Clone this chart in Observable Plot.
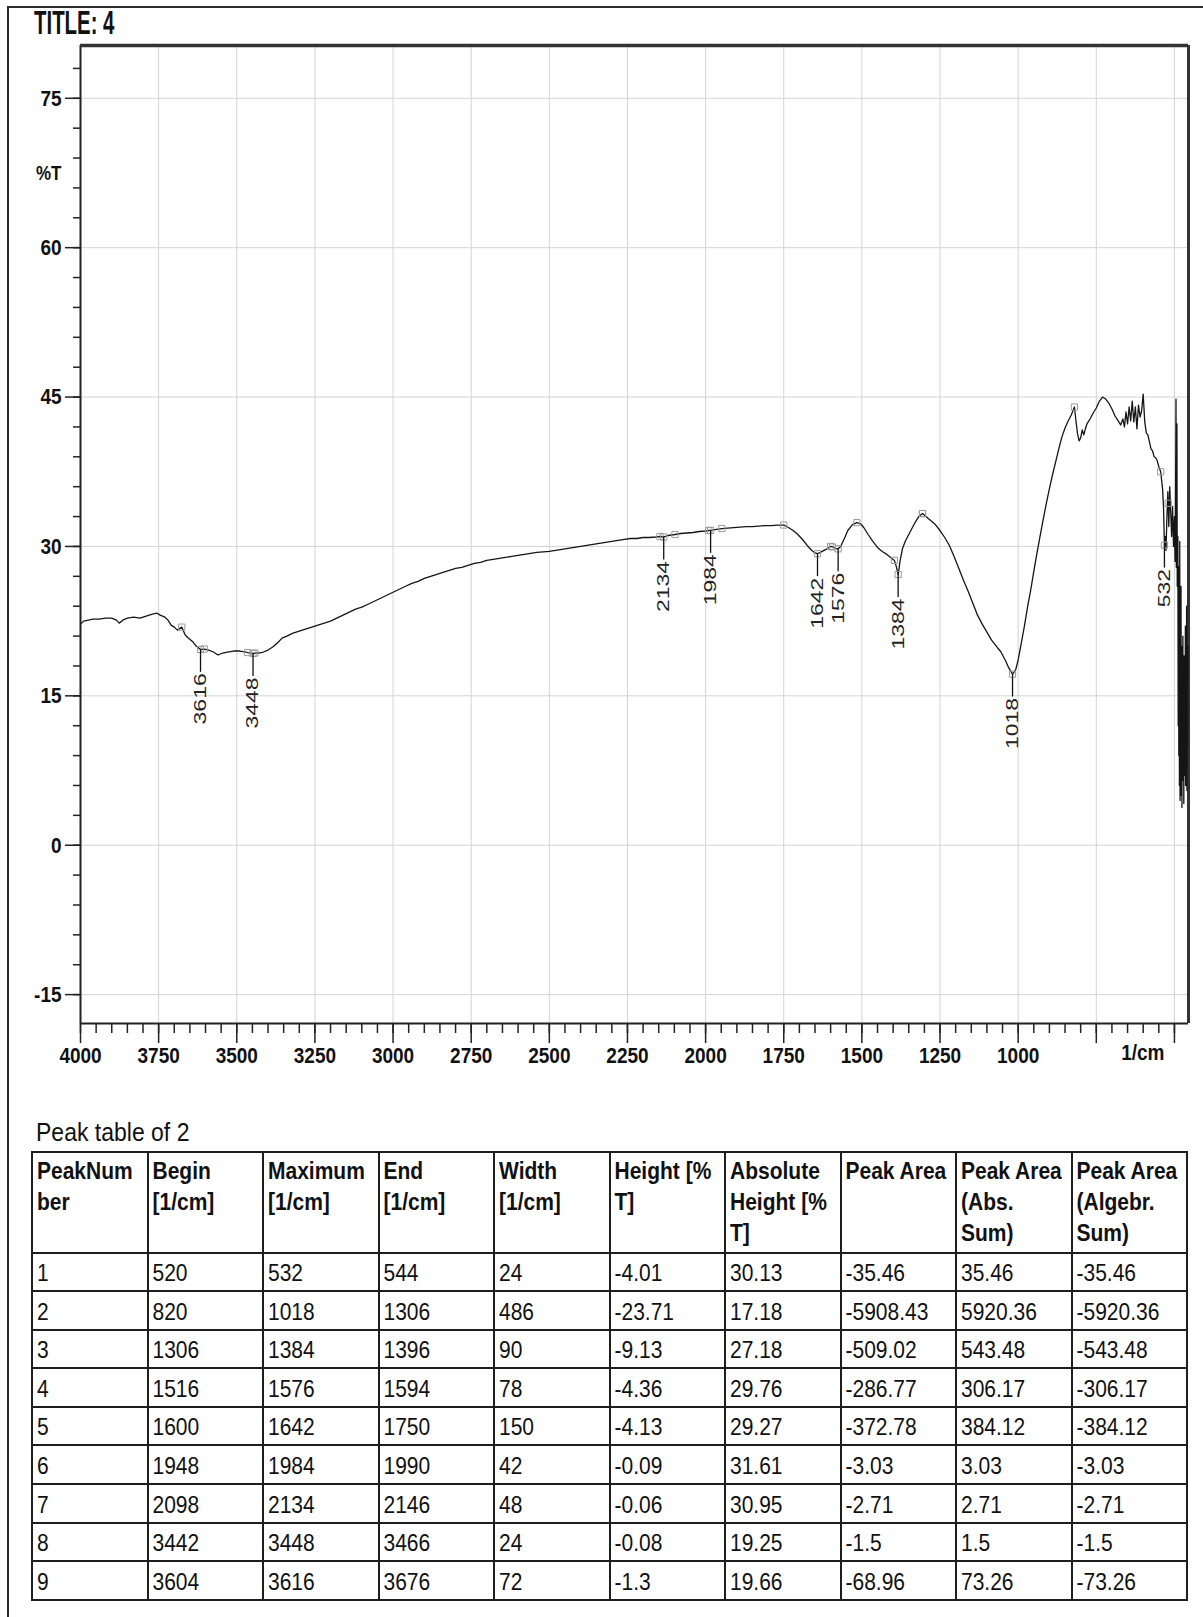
<!DOCTYPE html>
<html>
<head>
<meta charset="utf-8">
<script src="https://cdn.jsdelivr.net/npm/d3@7"></script>
<script src="https://cdn.jsdelivr.net/npm/@observablehq/plot@0.6"></script>
<style>
  html, body { margin: 0; padding: 0; background: #fff; }
  body { width: 1203px; height: 1617px; position: relative; overflow: hidden; font-family: "Liberation Sans", Arial, sans-serif; color: #111; }
  #outer { position: absolute; left: 7px; top: 6px; width: 1200px; height: 1620px; border-left: 2px solid #2a2a2a; border-top: 2px solid #2a2a2a; }
  #title { position: absolute; left: 34px; top: 6px; font-weight: bold; font-size: 24px; line-height: 24px; transform: scale(0.85, 1.4); transform-origin: 0 0; white-space: nowrap; }
  #chart { position: absolute; left: 0; top: 0; }
  #ptitle { position: absolute; left: 36px; top: 1120px; font-size: 23px; line-height: 23px; white-space: nowrap; transform: scaleY(1.12); transform-origin: 0 0; }
  #tbl { position: absolute; left: 31px; top: 1151px; border-collapse: collapse; table-layout: fixed; width: 1157px; }
  #tbl td { border: 2px solid #1e1e1e; padding: 0 0 0 4px; overflow: hidden; white-space: nowrap; color: #111; }
  #tbl tr.h td { height: 96.5px; vertical-align: top; font-weight: bold; font-size: 21px; line-height: 27px; padding-top: 2px; }
  #tbl tr.d td { height: 30.6px; vertical-align: bottom; font-size: 21px; line-height: 21px; padding-bottom: 6px; }
  #tbl tr.h td span { display: inline-block; transform: scaleY(1.15); transform-origin: 0 0; }
  #tbl tr.d td span { display: inline-block; transform: scaleY(1.15); transform-origin: 0 100%; }
</style>
</head>
<body>
<div id="outer"></div>
<div id="chart"></div>
<div id="title">TITLE: 4</div>
<div id="ptitle">Peak table of 2</div>
<table id="tbl"></table>
<script>
// ---------- spectrum (wavenumber [1/cm], %T) ----------
const spectrum = [
[4000,22.2],[3990,22.5],[3975,22.6],[3960,22.7],[3940,22.7],[3920,22.8],[3900,22.8],[3885,22.6],[3876,22.3],[3865,22.6],
[3850,22.8],[3830,22.9],[3810,22.8],[3790,23.0],[3770,23.2],[3755,23.3],[3745,23.1],[3730,22.9],[3720,22.6],[3710,22.1],
[3700,21.9],[3690,21.6],[3676,21.9],[3665,21.1],[3655,20.8],[3640,20.4],[3630,20.0],[3616,19.66],[3604,19.7],[3590,19.6],
[3575,19.4],[3560,19.1],[3545,19.3],[3530,19.4],[3510,19.5],[3490,19.5],[3470,19.4],[3466,19.35],[3448,19.25],[3442,19.3],
[3430,19.3],[3415,19.4],[3400,19.6],[3385,19.9],[3370,20.3],[3355,20.8],[3340,21.0],[3320,21.3],[3300,21.5],[3280,21.7],
[3260,21.9],[3240,22.1],[3220,22.3],[3200,22.5],[3180,22.8],[3160,23.1],[3140,23.4],[3120,23.7],[3100,23.9],[3080,24.2],
[3060,24.5],[3040,24.8],[3020,25.1],[3000,25.4],[2980,25.7],[2960,26.0],[2940,26.3],[2920,26.5],[2900,26.8],[2880,27.0],
[2860,27.2],[2840,27.4],[2820,27.6],[2800,27.8],[2780,27.9],[2760,28.1],[2740,28.3],[2720,28.4],[2700,28.6],[2680,28.7],
[2660,28.8],[2640,28.9],[2620,29.0],[2600,29.1],[2580,29.2],[2560,29.3],[2540,29.4],[2520,29.45],[2500,29.5],[2480,29.6],
[2460,29.7],[2440,29.8],[2420,29.9],[2400,30.0],[2380,30.1],[2360,30.2],[2340,30.3],[2320,30.4],[2300,30.5],[2280,30.6],
[2260,30.7],[2240,30.8],[2220,30.8],[2200,30.9],[2180,30.9],[2160,30.95],[2146,31.0],[2134,30.95],[2120,31.1],[2098,31.2],
[2080,31.3],[2060,31.35],[2040,31.4],[2020,31.5],[2000,31.55],[1990,31.6],[1984,31.61],[1970,31.7],[1948,31.8],[1930,31.85],
[1910,31.9],[1890,31.95],[1870,32.0],[1850,32.0],[1830,32.05],[1810,32.1],[1790,32.1],[1770,32.15],[1750,32.15],[1735,31.9],
[1720,31.6],[1705,31.2],[1690,30.7],[1675,30.1],[1660,29.6],[1650,29.35],[1642,29.27],[1630,29.45],[1615,29.7],[1600,30.0],
[1594,29.95],[1584,29.8],[1576,29.76],[1568,30.0],[1556,30.8],[1545,31.6],[1530,32.2],[1516,32.4],[1505,32.3],[1494,31.9],
[1480,31.2],[1465,30.5],[1450,29.9],[1435,29.5],[1420,29.2],[1408,28.9],[1396,28.6],[1390,28.0],[1384,27.18],[1378,28.5],
[1370,29.8],[1360,30.6],[1345,31.5],[1330,32.4],[1318,33.0],[1306,33.3],[1295,33.0],[1280,32.6],[1265,32.2],[1250,31.6],
[1235,30.9],[1220,30.1],[1205,29.0],[1190,27.8],[1175,26.6],[1160,25.5],[1145,24.3],[1130,23.1],[1115,22.2],[1100,21.4],
[1085,20.6],[1070,20.0],[1055,19.4],[1040,18.5],[1030,17.8],[1018,17.18],[1008,17.6],[1000,18.6],[990,20.3],[980,22.0],
[970,23.9],[960,25.6],[950,27.5],[940,29.3],[930,31.0],[920,32.7],[910,34.3],[900,35.8],[890,37.2],[880,38.5],
[870,39.8],[860,41.0],[850,41.9],[840,42.6],[830,43.2],[820,44.0],[815,42.6],[810,41.3],[805,40.6],[800,40.9],
[795,41.7],[790,41.2],[785,41.8],[780,42.3],[770,42.8],[760,43.4],[750,43.9],[740,44.6],[730,45.0],[720,44.8],
[710,44.4],[700,43.8],[690,43.1],[680,42.6],[672,42.2],[665,42.8],[660,42.0],[655,43.5],[650,42.3],[645,44.0],
[640,42.6],[635,44.6],[630,42.5],[625,44.0],[620,41.8],[615,44.2],[610,43.0],[605,43.6],[600,45.3],[595,42.5],
[590,41.4],[585,41.2],[580,40.5],[575,39.8],[570,39.6],[565,39.0],[560,38.9],[555,38.6],[550,38.0],[544,37.5],
[538,35.8],[535,34.0],[532,30.13],[529,31.0],[527,29.6],[524,33.0],[521,35.5],[518,32.0],[515,36.0],[512,33.5],
[509,31.0],[506,34.0],[503,30.0],[500,33.0],[498,28.5],[497,30.5],[495,44.8],[494,27.9],[492,42.3],[491,26.0],
[489,31.0],[488,12.0],[487,28.0],[486,9.0],[485,24.0],[484,6.0],[483,30.5],[482,4.5],[481,22.0],[480,7.5],
[479,26.0],[478,5.0],[477,20.0],[476,3.8],[475,18.0],[474,8.0],[473,21.0],[472,6.5],[471,16.0],[470,4.2],
[469,19.0],[468,7.0],[467,14.0],[466,9.0],[465,22.0],[464,6.0],[463,17.0],[462,8.5],[461,24.0],[460,5.5],
[459,15.0],[458,10.0],[457,20.0]
];

// ---------- peak table ----------
const peakNum       = [1, 2, 3, 4, 5, 6, 7, 8, 9];
const peakBegin     = [520, 820, 1306, 1516, 1600, 1948, 2098, 3442, 3604];
const peakMax       = [532, 1018, 1384, 1576, 1642, 1984, 2134, 3448, 3616];
const peakEnd       = [544, 1306, 1396, 1594, 1750, 1990, 2146, 3466, 3676];
const peakWidth     = [24, 486, 90, 78, 150, 42, 48, 24, 72];
const peakHeight    = [-4.01, -23.71, -9.13, -4.36, -4.13, -0.09, -0.06, -0.08, -1.3];
const peakAbsHeight = [30.13, 17.18, 27.18, 29.76, 29.27, 31.61, 30.95, 19.25, 19.66];
const peakArea      = [-35.46, -5908.43, -509.02, -286.77, -372.78, -3.03, -2.71, -1.5, -68.96];
const peakAreaAbs   = [35.46, 5920.36, 543.48, 306.17, 384.12, 3.03, 2.71, 1.5, 73.26];
const peakAreaAlg   = [-35.46, -5920.36, -543.48, -306.17, -384.12, -3.03, -2.71, -1.5, -73.26];
const tableHeaders  = [["PeakNum","ber"],["Begin","[1/cm]"],["Maximum","[1/cm]"],["End","[1/cm]"],["Width","[1/cm]"],
                       ["Height [%","T]"],["Absolute","Height [%","T]"],["Peak Area"],["Peak Area","(Abs.","Sum)"],["Peak Area","(Algebr.","Sum)"]];

// ---------- axes ----------
const xDomain = [4000, 455];
const yDomain = [-17.9, 80.3];
const xLabelTicks = [4000, 3750, 3500, 3250, 3000, 2750, 2500, 2250, 2000, 1750, 1500, 1250, 1000];
const xMajorTicks = [4000, 3750, 3500, 3250, 3000, 2750, 2500, 2250, 2000, 1750, 1500, 1250, 1000, 750, 500];
const xGridTicks  = [3750, 3500, 3250, 3000, 2750, 2500, 2250, 2000, 1750, 1500, 1250, 1000, 750, 500];
const xMinorStep = 50;
const yLabelTicks = [75, 60, 45, 30, 15, 0, -15];
const yMinorStep = 3;
const yAxisTitle = "%T";
const xAxisTitle = "1/cm";

const spec = spectrum.map(([w, t]) => ({w, t}));
const interp = (w) => {
  for (let i = 0; i < spec.length - 1; i++) {
    const a = spec[i], b = spec[i + 1];
    if (w <= a.w && w >= b.w) return a.t + (b.t - a.t) * (a.w - w) / (a.w - b.w);
  }
  return NaN;
};
const peaks = peakMax.map((m, i) => ({max: m, abs: peakAbsHeight[i]}));
const markers = [];
peakMax.forEach((m, i) => {
  markers.push({w: peakBegin[i], t: interp(peakBegin[i])});
  markers.push({w: m, t: peakAbsHeight[i]});
  markers.push({w: peakEnd[i], t: interp(peakEnd[i])});
});
const xMinor = d3.range(xDomain[0], xDomain[1], -xMinorStep);
const yMinor = d3.range(-15, 80, yMinorStep);
const fmt = d => String(d);
const leader = 2.3; // %T length of the leader line under each peak

const chart = Plot.plot({
  width: 1203,
  height: 1080,
  marginLeft: 80,
  marginRight: 15,
  marginTop: 45,
  marginBottom: 57,
  style: {fontFamily: '"Liberation Sans", Arial, sans-serif', background: "none", color: "#111", overflow: "visible"},
  x: {domain: xDomain, label: null},
  y: {domain: yDomain, label: null},
  marks: [
    Plot.gridX(xGridTicks, {stroke: "#d4d4d4", strokeOpacity: 1, strokeWidth: 1}),
    Plot.gridY(yLabelTicks, {stroke: "#d4d4d4", strokeOpacity: 1, strokeWidth: 1}),
    Plot.axisY(yMinor, {tickSize: 7, tickFormat: () => "", stroke: "#222", strokeWidth: 1.5}),
    Plot.axisY(yLabelTicks, {tickSize: 15, tickPadding: 4, tickFormat: fmt, fontSize: 19, fontWeight: "bold", stroke: "#222", strokeWidth: 1.5}),
    Plot.axisX(xMinor, {tickSize: 10, tickFormat: () => "", stroke: "#222", strokeWidth: 1.5}),
    Plot.axisX(xMajorTicks, {tickSize: 20, tickPadding: 3, tickFormat: d => xLabelTicks.includes(d) ? fmt(d) : "", fontSize: 19, fontWeight: "bold", stroke: "#222", strokeWidth: 1.5}),
    Plot.ruleX([xDomain[0]], {stroke: "#222", strokeWidth: 2}),
    Plot.ruleY([yDomain[0]], {stroke: "#222", strokeWidth: 2}),
    Plot.ruleY([yDomain[1]], {stroke: "#333", strokeWidth: 3.5}),
    Plot.ruleX([xDomain[1]], {stroke: "#333", strokeWidth: 3}),
    Plot.line(spec, {x: "w", y: "t", stroke: "#151515", strokeWidth: 1.3}),
    Plot.dot(markers, {x: "w", y: "t", symbol: "square", r: 3.5, stroke: "#9a9a9a", fill: "none", strokeWidth: 1}),
    Plot.ruleX(peaks, {x: "max", y1: "abs", y2: d => d.abs - leader, stroke: "#111", strokeWidth: 1.3}),
    Plot.text(peaks, {x: "max", y: d => d.abs - leader, text: d => String(d.max), rotate: -90, textAnchor: "end", dy: 1, fontSize: 17, fill: "#222"}),
    Plot.text([yAxisTitle], {text: d => d, frameAnchor: "top-left", dx: -19, dy: 120, textAnchor: "end", fontSize: 17, fontWeight: "bold"}),
    Plot.text([xAxisTitle], {text: d => d, frameAnchor: "bottom-right", dx: -24, dy: 36, textAnchor: "end", fontSize: 19, fontWeight: "bold"})
  ]
});
document.getElementById("chart").appendChild(chart);

// stretch the glyphs like the scanned original (taller than wide)
const addScale = (t, sx, sy) => t.setAttribute("transform", (t.getAttribute("transform") || "") + ` scale(${sx},${sy})`);
const allText = Array.from(chart.querySelectorAll("text"));
allText.filter(t => (t.getAttribute("transform") || "").includes("rotate")).forEach(t => addScale(t, 1.35, 1));
allText.filter(t => t.textContent === yAxisTitle || t.textContent === xAxisTitle).forEach(t => addScale(t, 1, 1.2));
chart.querySelectorAll('g[aria-label="x-axis tick label"] text, g[aria-label="y-axis tick label"] text').forEach(t => addScale(t, 1, 1.2));

// ---------- table ----------
const cols = [peakNum, peakBegin, peakMax, peakEnd, peakWidth, peakHeight, peakAbsHeight, peakArea, peakAreaAbs, peakAreaAlg];
const tbl = d3.select("#tbl");
const cg = tbl.append("colgroup");
cols.forEach(() => cg.append("col").style("width", (100 / cols.length) + "%"));
const hr = tbl.append("tr").attr("class", "h");
tableHeaders.forEach(h => hr.append("td").append("span").html(h.join("<br>")));
peakNum.forEach((_, i) => {
  const tr = tbl.append("tr").attr("class", "d");
  cols.forEach(c => tr.append("td").append("span").text(String(c[i])));
});
</script>
</body>
</html>
